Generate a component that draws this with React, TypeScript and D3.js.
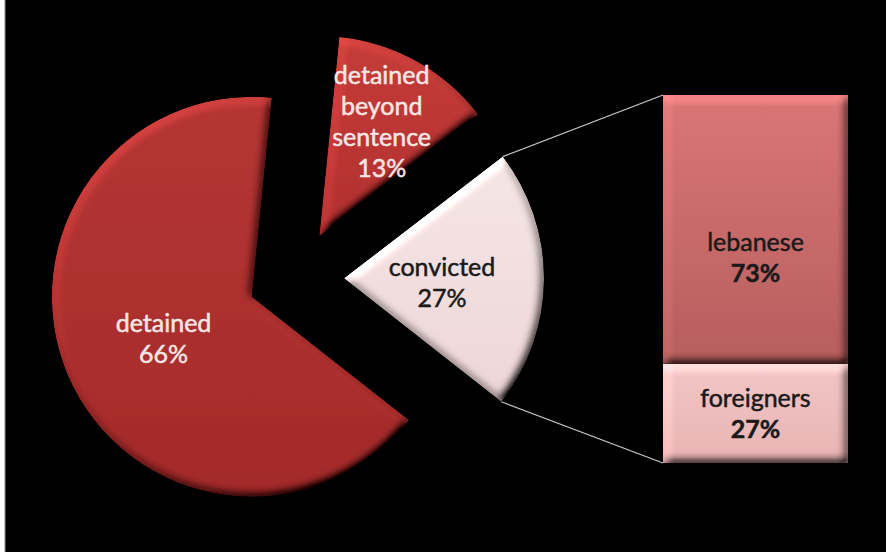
import React from "react";
import * as d3 from "d3";

const pieLabels = ["detained beyond sentence", "convicted", "detained"];
const pieValues = [13, 21, 66];
const pieLabelText = [["detained", "beyond", "sentence", "13%"], ["convicted", "27%"], ["detained", "66%"]];
const barLabels = ["lebanese", "foreigners"];
const barValues = [73, 27];
const barLabelText = [["lebanese", "73%"], ["foreigners", "27%"]];

const W = 886, H = 552;
const CX = 296, CY = 278, R = 200, EXPLODE = 48;
const BAR_X0 = 663, BAR_X1 = 848, BAR_Y0 = 95, BAR_Y1 = 463;

const pieFill = ["url(#gBeyond)", "url(#gConv)", "url(#gDet)"];
const pieTextColor = ["#f6e6e3", "#1a1a1a", "#f6e6e3"];
const labelFrac = [0.64, 0.49, 0.48];
const labelDy = [0, 6, 7];
const barFill = ["url(#gLeb)", "url(#gFor)"];
const barLabelFrac = [0.615, 0.53];

export default function App() {
  const pie = d3.pie<number>().sort(null).startAngle(0.1).endAngle(0.1 + 2 * Math.PI);
  const arcs = pie(pieValues);
  const arcGen = d3.arc<d3.PieArcDatum<number>>().innerRadius(0).outerRadius(R);

  const off = (a: d3.PieArcDatum<number>) => {
    const m = (a.startAngle + a.endAngle) / 2;
    return [Math.sin(m) * EXPLODE, -Math.cos(m) * EXPLODE];
  };

  const total = d3.sum(barValues);
  const y = d3.scaleLinear().domain([0, total]).range([BAR_Y1, BAR_Y0]);
  const stackOrder = [1, 0];
  let acc = 0;
  const barSegs: { i: number; y0: number; y1: number }[] = [];
  stackOrder.forEach((i) => {
    barSegs.push({ i, y0: y(acc + barValues[i]), y1: y(acc) });
    acc += barValues[i];
  });

  const conv = arcs[1];
  const [cox, coy] = off(conv);
  const p1 = [CX + cox + Math.sin(conv.startAngle) * R, CY + coy - Math.cos(conv.startAngle) * R];
  const p2 = [CX + cox + Math.sin(conv.endAngle) * R, CY + coy - Math.cos(conv.endAngle) * R];

  const font = "Lato, 'Open Sans', sans-serif";
  const fs = 25;
  const lh = 31;

  return (
    <svg width={W} height={H} style={{ position: "absolute", left: 0, top: 0, display: "block" }}>
      <defs>
        <filter id="bevel" x="-5%" y="-5%" width="110%" height="110%">
          <feGaussianBlur in="SourceAlpha" stdDeviation="5" result="blur" />
          <feDiffuseLighting in="blur" surfaceScale="6" diffuseConstant="1" lightingColor="#ffffff" result="diff">
            <feDistantLight azimuth="235" elevation="45" />
          </feDiffuseLighting>
          <feComposite in="SourceGraphic" in2="diff" operator="arithmetic" k1="1.414" k2="0" k3="0" k4="0" result="lit" />
          <feComposite in="lit" in2="SourceAlpha" operator="in" />
        </filter>
        <linearGradient id="gDet" x1="0" y1="0" x2="0" y2="1">
          <stop offset="0" stopColor="#b53634" />
          <stop offset="1" stopColor="#a42a2a" />
        </linearGradient>
        <linearGradient id="gBeyond" x1="0" y1="0" x2="0" y2="1">
          <stop offset="0" stopColor="#c43c38" />
          <stop offset="1" stopColor="#b23030" />
        </linearGradient>
        <linearGradient id="gConv" x1="0" y1="0" x2="0" y2="1">
          <stop offset="0" stopColor="#f6e6e6" />
          <stop offset="1" stopColor="#eed6d6" />
        </linearGradient>
        <linearGradient id="gLeb" x1="0" y1="0" x2="0" y2="1">
          <stop offset="0" stopColor="#da7676" />
          <stop offset="1" stopColor="#b65e5e" />
        </linearGradient>
        <linearGradient id="gFor" x1="0" y1="0" x2="0" y2="1">
          <stop offset="0" stopColor="#f2c6c6" />
          <stop offset="1" stopColor="#e9b3b3" />
        </linearGradient>
      </defs>
      <rect x={0} y={0} width={W} height={H} fill="#000" />
      <rect x={0} y={0} width={5} height={H} fill="#fff" />
      <rect x={4.5} y={0} width={1} height={H} fill="#888" />

      <line x1={p1[0]} y1={p1[1]} x2={BAR_X0} y2={BAR_Y0} stroke="#c8c8c8" strokeWidth={1.2} />
      <line x1={p2[0]} y1={p2[1]} x2={BAR_X0} y2={BAR_Y1} stroke="#c8c8c8" strokeWidth={1.2} />

      {arcs.map((a, i) => {
        const [dx, dy] = off(a);
        return (
          <g key={pieLabels[i]} transform={`translate(${CX + dx},${CY + dy})`}>
            <path d={arcGen(a) || ""} fill={pieFill[i]} filter="url(#bevel)" />
          </g>
        );
      })}

      {barSegs.map((s) => (
        <rect key={barLabels[s.i]} x={BAR_X0} y={s.y0} width={BAR_X1 - BAR_X0} height={s.y1 - s.y0}
          fill={barFill[s.i]} filter="url(#bevel)" />
      ))}

      {arcs.map((a, i) => {
        const [dx, dy] = off(a);
        const m = (a.startAngle + a.endAngle) / 2;
        const lx = CX + dx + Math.sin(m) * R * labelFrac[i];
        const ly = CY + dy - Math.cos(m) * R * labelFrac[i] + labelDy[i];
        const lines = pieLabelText[i];
        const top = ly - ((lines.length - 1) * lh) / 2;
        return (
          <text key={"t" + i} x={lx} textAnchor="middle" fontFamily={font} fontSize={fs}
            fill={pieTextColor[i]} stroke={pieTextColor[i]} strokeWidth={0.5}>
            {lines.map((t, j) => (
              <tspan key={j} x={lx} y={top + j * lh} dominantBaseline="middle">{t}</tspan>
            ))}
          </text>
        );
      })}

      {barSegs.map((s) => {
        const cx = (BAR_X0 + BAR_X1) / 2;
        const cy = s.y0 + (s.y1 - s.y0) * barLabelFrac[s.i];
        const lines = barLabelText[s.i];
        const top = cy - ((lines.length - 1) * lh) / 2;
        return (
          <text key={"b" + s.i} x={cx} textAnchor="middle" fontFamily={font} fontSize={fs}
            fill="#1a1a1a" stroke="#1a1a1a" strokeWidth={0.5}>
            {lines.map((t, j) => (
              <tspan key={j} x={cx} y={top + j * lh} dominantBaseline="middle" fontWeight={j === 1 ? 700 : 400}>{t}</tspan>
            ))}
          </text>
        );
      })}
    </svg>
  );
}
